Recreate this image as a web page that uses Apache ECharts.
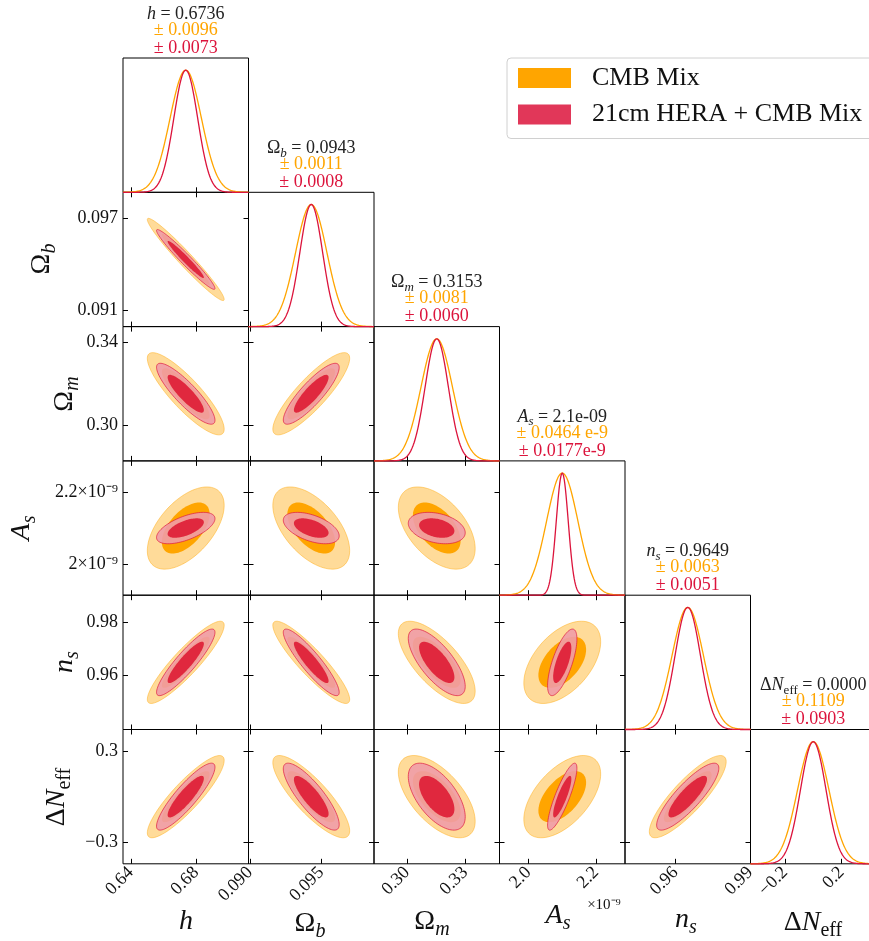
<!DOCTYPE html>
<html>
<head>
<meta charset="utf-8">
<script src="https://cdn.jsdelivr.net/npm/echarts@6/dist/echarts.min.js"></script>
<style>
html, body { margin: 0; padding: 0; background: #fff; }
#main { width: 869px; height: 941px; }
</style>
</head>
<body>
<div id="main"></div>
<script>
"use strict";

// parameters: h, Omega_b, Omega_m, A_s, n_s, Delta N_eff
var meanValues = [0.6736, 0.0943, 0.3153, 2.1e-9, 0.9649, 0.0];
var sigmaCMB   = [0.0096, 0.0011, 0.0081, 0.0464e-9, 0.0063, 0.1109];
var sigmaHERA  = [0.0073, 0.0008, 0.0060, 0.0177e-9, 0.0051, 0.0903];

// correlation coefficients (row param vs column param)
var rhoCMB = [
    [],
    [-0.97],
    [-0.86, 0.86],
    [0.55, -0.55, -0.50],
    [0.90, -0.90, -0.70, 0.50],
    [0.88, -0.83, -0.60, 0.55, 0.85]
];
var rhoHERA = [
    [],
    [-0.97],
    [-0.87, 0.86],
    [0.60, -0.50, -0.30],
    [0.90, -0.90, -0.72, 0.70],
    [0.88, -0.83, -0.60, 0.85, 0.85]
];
var contourLevels = [2.45, 1.52];   // 95% and 68% of a 2D gaussian

var xTicks = [[0.64, 0.68], [0.090, 0.095], [0.30, 0.33], [2.0e-9, 2.2e-9], [0.96, 0.99], [-0.2, 0.2]];
var xTickLabels = [['0.64', '0.68'], ['0.090', '0.095'], ['0.30', '0.33'], ['2.0', '2.2'], ['0.96', '0.99'], ['\u22120.2', '0.2']];
var yTicks = [[], [0.091, 0.097], [0.30, 0.34], [2.0e-9, 2.2e-9], [0.96, 0.98], [-0.3, 0.3]];
var yTickLabels = [[], ['0.091', '0.097'], ['0.30', '0.34'], ['2\u00d710\u207b\u2079', '2.2\u00d710\u207b\u2079'], ['0.96', '0.98'], ['\u22120.3', '0.3']];

// rich text for the parameter names
var nameRich = ['{i|h}', '{n|\u03a9}{subi|b}', '{n|\u03a9}{subi|m}', '{i|A}{subi|s}', '{i|n}{subi|s}', '{n|\u0394}{i|N}{sub|eff}'];
var titleValues = [' = 0.6736', ' = 0.0943', ' = 0.3153', ' = 2.1e-09', ' = 0.9649', ' = 0.0000'];
var errLabelsCMB  = ['\u00b1 0.0096', '\u00b1 0.0011', '\u00b1 0.0081', '\u00b1 0.0464 e-9', '\u00b1 0.0063', '\u00b1 0.1109'];
var errLabelsHERA = ['\u00b1 0.0073', '\u00b1 0.0008', '\u00b1 0.0060', '\u00b1 0.0177e-9', '\u00b1 0.0051', '\u00b1 0.0903'];

var legendNames = ['CMB Mix', '21cm HERA + CMB Mix'];

var FONT = 'Liberation Serif';
var ORANGE = '#FFA500';
var RED = '#DC143C';
var L0 = 123, T0 = 58, PW = 125.5, PH = 134.3;

var contourStyles = [
    [
        { fill: 'rgba(255,165,0,0.4)', stroke: 'rgba(255,165,0,0.55)', lineWidth: 0.8 },
        { fill: '#FFA500', stroke: null, lineWidth: 0 }
    ],
    [
        { fill: 'rgba(240,156,167,0.9)', stroke: 'rgba(220,20,60,0.75)', lineWidth: 0.9 },
        { fill: 'rgb(224,40,62)', stroke: null, lineWidth: 0 }
    ]
];

function axisRange(k) {
    return [meanValues[k] - 4 * sigmaCMB[k], meanValues[k] + 4 * sigmaCMB[k]];
}

function findLabel(values, labels, v) {
    for (var i = 0; i < values.length; i++) {
        if (Math.abs(values[i] - v) <= Math.abs(values[i]) * 1e-6 + 1e-15) return labels[i];
    }
    return '';
}

function richSet(size, color) {
    return {
        n: { fontFamily: FONT, fontSize: size, color: color, fill: color },
        i: { fontFamily: FONT, fontStyle: 'italic', fontSize: size, color: color, fill: color },
        sub: { fontFamily: FONT, fontSize: Math.round(size * 0.7), color: color, fill: color, padding: [Math.round(size * 0.55), 0, 0, 0] },
        subi: { fontFamily: FONT, fontStyle: 'italic', fontSize: Math.round(size * 0.7), color: color, fill: color, padding: [Math.round(size * 0.55), 0, 0, 0] }
    };
}

function renderEllipse(ds) {
    return function (params, api) {
        var mx = api.value(0), my = api.value(1), sx = api.value(2), sy = api.value(3);
        var rho = api.value(4), lv = api.value(5);
        var k = contourLevels[lv];
        var pts = [];
        for (var t = 0; t <= 90; t++) {
            var a = t / 90 * 2 * Math.PI;
            var x = mx + k * sx * Math.cos(a);
            var y = my + k * sy * (rho * Math.cos(a) + Math.sqrt(1 - rho * rho) * Math.sin(a));
            pts.push(api.coord([x, y]));
        }
        var st = contourStyles[ds][lv];
        return {
            type: 'polygon',
            shape: { points: pts },
            style: { fill: st.fill, stroke: st.stroke, lineWidth: st.lineWidth }
        };
    };
}

function renderCurve(lo, hi, color) {
    return function (params, api) {
        var m = api.value(0), s = api.value(1);
        var pts = [];
        for (var t = 0; t <= 200; t++) {
            var x = lo + (hi - lo) * t / 200;
            var u = (x - m) / s;
            pts.push(api.coord([x, Math.exp(-0.5 * u * u)]));
        }
        return {
            type: 'polyline',
            shape: { points: pts },
            style: { fill: null, stroke: color, lineWidth: 1.3 }
        };
    };
}

function tickAxis(g, k, pos, ticks, labels, showLabels, isX) {
    var r = axisRange(k);
    return {
        gridIndex: g,
        type: 'value',
        position: pos,
        min: r[0],
        max: r[1],
        axisLine: { show: false, onZero: false },
        splitLine: { show: false },
        axisTick: { show: true, inside: true, length: 5, customValues: ticks, lineStyle: { color: '#000', width: 1 } },
        axisLabel: {
            show: showLabels,
            customValues: ticks,
            rotate: isX ? 45 : 0,
            margin: isX ? 6 : 5,
            fontFamily: FONT,
            fontSize: 18,
            color: '#111',
            formatter: function (v) { return findLabel(ticks, labels, v); }
        }
    };
}

var grids = [], xAxes = [], yAxes = [], series = [], graphics = [];

for (var i = 0; i < 6; i++) {
    for (var j = 0; j <= i; j++) {
        var g = grids.length;
        grids.push({
            left: L0 + j * PW, top: T0 + i * PH, width: PW, height: PH,
            show: true, borderColor: '#000', borderWidth: 1, backgroundColor: 'transparent',
            outerBoundsMode: 'none'
        });
        var xi = xAxes.length, yi = yAxes.length;
        xAxes.push(tickAxis(g, j, 'bottom', xTicks[j], xTickLabels[j], i === 5, true));

        if (i === j) {
            yAxes.push({
                gridIndex: g, type: 'value', min: 0, max: 1.1,
                axisLine: { show: false, onZero: false }, splitLine: { show: false },
                axisTick: { show: false }, axisLabel: { show: false }
            });
            var rng = axisRange(j);
            series.push({
                type: 'custom', name: legendNames[0], coordinateSystem: 'cartesian2d',
                xAxisIndex: xi, yAxisIndex: yi, silent: true,
                itemStyle: { color: ORANGE },
                renderItem: renderCurve(rng[0], rng[1], ORANGE),
                data: [[meanValues[j], sigmaCMB[j]]]
            });
            series.push({
                type: 'custom', name: legendNames[1], coordinateSystem: 'cartesian2d',
                xAxisIndex: xi, yAxisIndex: yi, silent: true,
                itemStyle: { color: RED },
                renderItem: renderCurve(rng[0], rng[1], RED),
                data: [[meanValues[j], sigmaHERA[j]]]
            });
        } else {
            yAxes.push(tickAxis(g, i, 'left', yTicks[i], yTickLabels[i], j === 0, false));
            xAxes.push(tickAxis(g, j, 'top', xTicks[j], xTickLabels[j], false, true));
            yAxes.push(tickAxis(g, i, 'right', yTicks[i], yTickLabels[i], false, false));
            series.push({
                type: 'custom', name: legendNames[0], coordinateSystem: 'cartesian2d',
                xAxisIndex: xi, yAxisIndex: yi, silent: true,
                itemStyle: { color: ORANGE },
                renderItem: renderEllipse(0),
                data: [
                    [meanValues[j], meanValues[i], sigmaCMB[j], sigmaCMB[i], rhoCMB[i][j], 0],
                    [meanValues[j], meanValues[i], sigmaCMB[j], sigmaCMB[i], rhoCMB[i][j], 1]
                ]
            });
            series.push({
                type: 'custom', name: legendNames[1], coordinateSystem: 'cartesian2d',
                xAxisIndex: xi, yAxisIndex: yi, silent: true,
                itemStyle: { color: RED },
                renderItem: renderEllipse(1),
                data: [
                    [meanValues[j], meanValues[i], sigmaHERA[j], sigmaHERA[i], rhoHERA[i][j], 0],
                    [meanValues[j], meanValues[i], sigmaHERA[j], sigmaHERA[i], rhoHERA[i][j], 1]
                ]
            });
        }
    }
}

// titles above the diagonal panels
for (var k = 0; k < 6; k++) {
    var cx = L0 + PW * (k + 0.5);
    var panelTop = T0 + PH * k;
    graphics.push({
        type: 'text', x: cx, y: panelTop - 44, silent: true,
        style: { text: nameRich[k] + '{n|' + titleValues[k] + '}', rich: richSet(18, '#222'), align: 'center', verticalAlign: 'middle' }
    });
    graphics.push({
        type: 'text', x: cx, y: panelTop - 28, silent: true,
        style: { text: errLabelsCMB[k], fontFamily: FONT, fontSize: 18, fill: ORANGE, align: 'center', verticalAlign: 'middle' }
    });
    graphics.push({
        type: 'text', x: cx, y: panelTop - 10, silent: true,
        style: { text: errLabelsHERA[k], fontFamily: FONT, fontSize: 18, fill: RED, align: 'center', verticalAlign: 'middle' }
    });
}

// axis names
var yNamePos = [null, [42, 259], [65, 394], [22, 528], [65, 662], [57, 797]];
for (var k = 1; k < 6; k++) {
    graphics.push({
        type: 'text', x: yNamePos[k][0], y: yNamePos[k][1], rotation: Math.PI / 2, silent: true,
        style: { text: nameRich[k], rich: richSet(28, '#111'), align: 'center', verticalAlign: 'middle' }
    });
}
var xNamePos = [[186, 922], [310, 924], [432, 922], [558, 916], [686, 920], [813, 923]];
for (var k = 0; k < 6; k++) {
    graphics.push({
        type: 'text', x: xNamePos[k][0], y: xNamePos[k][1], silent: true,
        style: { text: nameRich[k], rich: richSet(28, '#111'), align: 'center', verticalAlign: 'middle' }
    });
}
graphics.push({
    type: 'text', x: 604, y: 905, silent: true,
    style: { text: '\u00d710\u207b\u2079', fontFamily: FONT, fontSize: 15, fill: '#111', align: 'center', verticalAlign: 'middle' }
});

var option = {
    animation: false,
    backgroundColor: '#fff',
    legend: {
        left: 507, top: 58,
        orient: 'vertical',
        icon: 'rect',
        itemWidth: 53, itemHeight: 20, itemGap: 10.5,
        padding: [7, 30, 11, 11],
        borderColor: '#d0d0d0', borderWidth: 1, borderRadius: 4,
        backgroundColor: '#fff',
        selectedMode: false,
        textStyle: { fontFamily: FONT, fontSize: 26, color: '#111', padding: [0, 0, 0, 16] },
        data: [
            { name: legendNames[0], itemStyle: { color: ORANGE } },
            { name: legendNames[1], itemStyle: { color: 'rgba(220,20,60,0.85)' } }
        ]
    },
    grid: grids,
    xAxis: xAxes,
    yAxis: yAxes,
    series: series,
    graphic: graphics
};

var myChart = echarts.init(document.getElementById('main'));
myChart.setOption(option);
</script>
</body>
</html>
